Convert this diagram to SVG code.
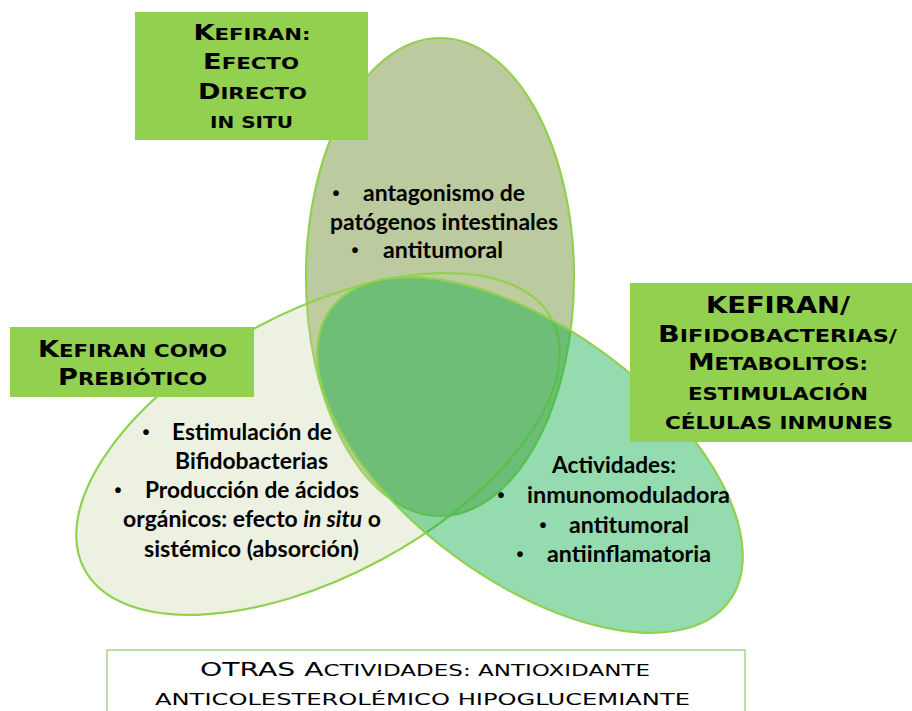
<svg xmlns="http://www.w3.org/2000/svg" width="912" height="711" viewBox="0 0 912 711">
<style>
.ell{stroke:#92D050;stroke-width:2.2}
.box{fill:#92D050}
.lbl{font-family:"DejaVu Sans","Liberation Sans",sans-serif;font-weight:bold;text-anchor:middle;fill:#000}
.foot{font-family:"DejaVu Sans","Liberation Sans",sans-serif;font-weight:normal;text-anchor:middle;fill:#000}
.body{font-family:Lato,"Liberation Sans",sans-serif;font-weight:bold;font-size:22px;fill:#000}
.bul{font-family:"Liberation Sans",sans-serif;font-weight:bold;font-size:20px;fill:#000;text-anchor:middle}
.c1{font-size:20.5px}.s1{font-size:16px}
.c2{font-size:23px}.s2{font-size:18px}
.c3{font-size:19px}.s3{font-size:15.5px}
</style>
<rect width="912" height="711" fill="#FFFFFF"/>
<g id="circle-directo">
<ellipse class="ell" cx="440" cy="277" rx="134" ry="239" fill="#BCCA9F"/>
<text class="bul" x="336" y="200">•</text>
<text class="body" x="363" y="201" textLength="162" lengthAdjust="spacingAndGlyphs">antagonismo de</text>
<text class="body" x="330" y="230" textLength="228" lengthAdjust="spacingAndGlyphs">patógenos intestinales</text>
<text class="bul" x="355" y="257">•</text>
<text class="body" x="383" y="258" textLength="120" lengthAdjust="spacingAndGlyphs">antitumoral</text>
</g>
<g id="circle-prebiotico">
<ellipse class="ell" cx="318" cy="444" rx="265" ry="132" transform="rotate(-28.2 318 444)" fill="#C3D09E" fill-opacity="0.3"/>
<text class="bul" x="146" y="439">•</text>
<text class="body" x="172" y="440" textLength="160" lengthAdjust="spacingAndGlyphs">Estimulación de</text>
<text class="body" x="175" y="469" textLength="153" lengthAdjust="spacingAndGlyphs">Bifidobacterias</text>
<text class="bul" x="118" y="497">•</text>
<text class="body" x="145" y="498" textLength="214" lengthAdjust="spacingAndGlyphs">Producción de ácidos</text>
<text class="body" x="123" y="527" textLength="258" lengthAdjust="spacingAndGlyphs">orgánicos: efecto <tspan font-style="italic">in situ</tspan> o</text>
<text class="body" x="144" y="557" textLength="215" lengthAdjust="spacingAndGlyphs">sistémico (absorción)</text>
</g>
<g id="circle-inmune">
<ellipse class="ell" cx="530" cy="455" rx="247" ry="126" transform="rotate(36.2 530 455)" fill="#00AC43" fill-opacity="0.42"/>
<text class="body" x="552" y="473" textLength="124" lengthAdjust="spacingAndGlyphs">Actividades:</text>
<text class="bul" x="501" y="502">•</text>
<text class="body" x="527" y="503" textLength="203" lengthAdjust="spacingAndGlyphs">inmunomoduladora</text>
<text class="bul" x="543" y="532">•</text>
<text class="body" x="569" y="533" textLength="120" lengthAdjust="spacingAndGlyphs">antitumoral</text>
<text class="bul" x="520" y="561">•</text>
<text class="body" x="547" y="562" textLength="164" lengthAdjust="spacingAndGlyphs">antiinflamatoria</text>
</g>
<g id="label-directo">
<rect class="box" x="135" y="12" width="233" height="128"/>
<text class="lbl" x="252" y="40" textLength="117" lengthAdjust="spacingAndGlyphs"><tspan class="c1">K</tspan><tspan class="s1">EFIRAN:</tspan></text>
<text class="lbl" x="251" y="69" textLength="96" lengthAdjust="spacingAndGlyphs"><tspan class="c1">E</tspan><tspan class="s1">FECTO</tspan></text>
<text class="lbl" x="252.5" y="99" textLength="109" lengthAdjust="spacingAndGlyphs"><tspan class="c1">D</tspan><tspan class="s1">IRECTO</tspan></text>
<text class="lbl s1" x="251.5" y="128" textLength="83" lengthAdjust="spacingAndGlyphs">IN SITU</text>
</g>
<g id="label-prebiotico">
<rect class="box" x="10" y="327" width="244" height="70"/>
<text class="lbl" x="132.5" y="357" textLength="189" lengthAdjust="spacingAndGlyphs"><tspan class="c2">K</tspan><tspan class="s2">EFIRAN COMO</tspan></text>
<text class="lbl" x="132.5" y="385" textLength="149" lengthAdjust="spacingAndGlyphs"><tspan class="c2">P</tspan><tspan class="s2">REBIÓTICO</tspan></text>
</g>
<g id="label-inmune">
<rect class="box" x="630" y="283" width="282" height="159"/>
<text class="lbl c2" x="778" y="313" textLength="144" lengthAdjust="spacingAndGlyphs">KEFIRAN/</text>
<text class="lbl" x="777.5" y="342" textLength="239" lengthAdjust="spacingAndGlyphs"><tspan class="c2">B</tspan><tspan class="s2">IFIDOBACTERIAS/</tspan></text>
<text class="lbl" x="778" y="370" textLength="180" lengthAdjust="spacingAndGlyphs"><tspan class="c2">M</tspan><tspan class="s2">ETABOLITOS:</tspan></text>
<text class="lbl s2" x="778" y="400" textLength="180" lengthAdjust="spacingAndGlyphs">ESTIMULACIÓN</text>
<text class="lbl s2" x="779" y="429" textLength="228" lengthAdjust="spacingAndGlyphs">CÉLULAS INMUNES</text>
</g>
<g id="otras-actividades">
<rect x="107" y="650" width="638" height="80" fill="#FFFFFF" stroke="#A9D18E" stroke-width="1.5"/>
<text class="foot" x="425" y="676" textLength="450" lengthAdjust="spacingAndGlyphs"><tspan class="c3">OTRAS A</tspan><tspan class="s3">CTIVIDADES: ANTIOXIDANTE</tspan></text>
<text class="foot s3" x="422.5" y="705" textLength="535" lengthAdjust="spacingAndGlyphs">ANTICOLESTEROLÉMICO HIPOGLUCEMIANTE</text>
</g>
</svg>
